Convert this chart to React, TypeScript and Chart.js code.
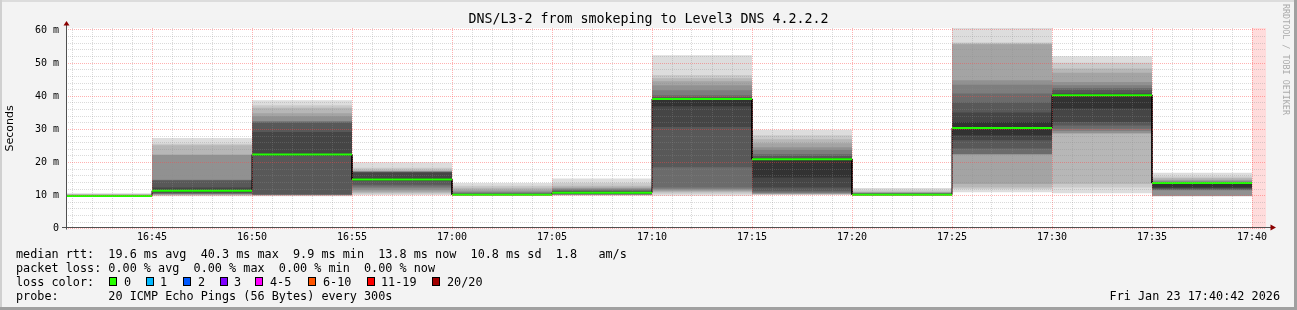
import React, { useEffect, useRef } from "react";
import { Chart, registerables } from "chart.js";

Chart.register(...registerables);

// ---------- data ----------
const TITLE = "DNS/L3-2 from smokeping to Level3 DNS 4.2.2.2";
const AXIS_START = "16:40:42";
const AXIS_END = "17:40:42";
const STEP_SECONDS = 300;

// end time of each 5 minute measurement interval (also the x tick labels)
const SEGMENT_END = ["16:45", "16:50", "16:55", "17:00", "17:05", "17:10", "17:15", "17:20", "17:25", "17:30", "17:35", "17:40"];

// median rtt per interval (ms)
const MEDIAN_MS = [9.9, 11.5, 22.4, 14.9, 10.3, 10.9, 39.2, 21.0, 10.3, 30.4, 40.3, 13.8];

// the 20 sorted ping rtts per interval (ms)
const PINGS_1645 = [9.7, 9.75, 9.8, 9.8, 9.85, 9.85, 9.9, 9.9, 9.9, 9.9, 9.95, 9.95, 10.0, 10.0, 10.1, 10.2, 10.3, 10.4, 10.5, 10.7];
const PINGS_1650 = [9.8, 10.0, 10.2, 10.3, 10.4, 10.5, 10.6, 10.8, 11.0, 11.3, 11.7, 12.5, 14.6, 14.7, 14.8, 22.3, 22.4, 25.2, 25.7, 27.4];
const PINGS_1655 = [9.8, 10.05, 10.1, 10.15, 10.2, 10.25, 10.3, 10.4, 22.0, 22.2, 22.6, 29.2, 32.0, 32.3, 32.5, 34.0, 34.9, 36.5, 37.3, 38.8];
const PINGS_1700 = [10.1, 10.4, 10.8, 11.2, 11.6, 12.2, 12.8, 13.3, 14.4, 14.6, 15.2, 17.0, 17.1, 17.2, 17.25, 17.3, 17.35, 17.8, 18.4, 20.1];
const PINGS_1705 = [10.0, 10.05, 10.1, 10.15, 10.2, 10.22, 10.25, 10.28, 10.3, 10.3, 10.35, 10.45, 10.6, 10.8, 11.0, 11.3, 11.8, 12.4, 13.0, 13.8];
const PINGS_1710 = [10.0, 10.1, 10.2, 10.25, 10.3, 10.35, 10.4, 10.5, 10.6, 10.8, 11.0, 11.2, 11.4, 11.6, 11.9, 12.2, 12.5, 13.0, 13.8, 15.2];
const PINGS_1715 = [10.0, 10.6, 11.0, 11.3, 11.6, 12.0, 12.5, 18.6, 30.7, 37.0, 39.3, 39.5, 39.8, 40.3, 41.8, 43.3, 44.5, 45.4, 46.4, 52.4];
const PINGS_1720 = [10.2, 10.3, 10.4, 10.5, 10.6, 10.8, 11.0, 11.5, 12.5, 15.5, 21.1, 21.3, 22.0, 22.6, 23.8, 24.6, 25.8, 27.0, 28.2, 29.9];
const PINGS_1725 = [10.0, 10.05, 10.1, 10.12, 10.15, 10.18, 10.2, 10.22, 10.25, 10.3, 10.35, 10.5, 10.6, 10.7, 10.8, 10.9, 11.0, 11.2, 11.6, 12.3];
const PINGS_1730 = [11.0, 12.0, 12.5, 13.5, 22.4, 22.5, 22.6, 24.2, 26.7, 28.2, 32.2, 35.1, 38.1, 40.8, 43.5, 44.8, 55.7, 55.9, 56.2, 60.7];
const PINGS_1735 = [10.7, 12.5, 13.5, 28.7, 28.9, 29.5, 30.2, 31.2, 32.2, 36.3, 40.6, 40.8, 42.0, 42.5, 43.3, 44.3, 47.1, 48.4, 50.1, 52.1];
const PINGS_1740 = [9.8, 9.85, 9.9, 9.95, 10.0, 11.6, 11.7, 11.9, 12.2, 12.5, 13.6, 13.7, 13.8, 13.9, 14.2, 14.5, 14.8, 15.3, 15.8, 16.9];
const PINGS = [PINGS_1645, PINGS_1650, PINGS_1655, PINGS_1700, PINGS_1705, PINGS_1710, PINGS_1715, PINGS_1720, PINGS_1725, PINGS_1730, PINGS_1735, PINGS_1740];

// interval without data
const UNKNOWN_FROM = "17:40";
const UNKNOWN_TO = "17:40:42";

// y axis
const Y_MAX_MS = 60.6;
const Y_MAJOR_TICKS = [0, 10, 20, 30, 40, 50, 60];
const Y_TICK_LABELS = ["0", "10 m", "20 m", "30 m", "40 m", "50 m", "60 m"];
const Y_MINOR_STEP = 2;
const X_MINOR_STEP = 60;
const X_MAJOR_STEP = 300;

// legend
const STATS_RTT = "median rtt:  19.6 ms avg  40.3 ms max  9.9 ms min  13.8 ms now  10.8 ms sd  1.8   am/s";
const STATS_LOSS = "packet loss: 0.00 % avg  0.00 % max  0.00 % min  0.00 % now";
const PROBE = "probe:       20 ICMP Echo Pings (56 Bytes) every 300s";
const STAMP = "Fri Jan 23 17:40:42 2026";
const LOSS_LABELS = ["0", "1", "2", "3", "4-5", "6-10", "11-19", "20/20"];
const LOSS_COLORS = ["#26ff00", "#00b8ff", "#0059ff", "#7e00ff", "#ff00ff", "#ff5500", "#ff0000", "#a10000"];

// smoke gray for band i (outer -> inner)
const SMOKE_GRAYS = ["#dddddd", "#cacaca", "#b7b7b7", "#a4a4a4", "#919191", "#7e7e7e", "#6b6b6b", "#585858", "#454545", "#323232"];

// ---------- helpers ----------
const toSec = (t: string) => {
  const p = t.split(":").map(Number);
  return p[0] * 3600 + p[1] * 60 + (p[2] || 0);
};
const fmtTime = (s: number) => {
  const h = Math.floor(s / 3600);
  const m = Math.floor((s % 3600) / 60);
  return `${h}:${String(m).padStart(2, "0")}`;
};
const stepPoints = (vals: number[]) =>
  SEGMENT_END.flatMap((e, i) => {
    const end = toSec(e);
    return [
      { x: end - STEP_SECONDS, y: vals[i] },
      { x: end, y: vals[i] },
    ];
  });
const gapPoints = (vals: number[]) =>
  SEGMENT_END.flatMap((e, i) => {
    const end = toSec(e);
    return [
      { x: end - STEP_SECONDS, y: vals[i] },
      { x: end, y: vals[i] },
      { x: end, y: null as any },
    ];
  });

const MINOR_GRID = "rgba(140,140,140,0.32)";
const MAJOR_GRID = "rgba(255,70,70,0.42)";
const MONO = '"DejaVu Sans Mono", monospace';

const rrdPlugin = {
  id: "rrdFrame",
  beforeDraw(chart: any) {
    const { ctx, chartArea: a } = chart;
    ctx.save();
    ctx.fillStyle = "#ffffff";
    ctx.fillRect(a.left, a.top, a.right - a.left, a.bottom - a.top);
    ctx.restore();
  },
  afterDraw(chart: any) {
    const { ctx, chartArea: a } = chart;
    const x0 = Math.floor(a.left) + 0.5;
    const y0 = Math.floor(a.bottom) - 0.5;
    ctx.save();
    ctx.strokeStyle = "#505050";
    ctx.lineWidth = 1;
    ctx.beginPath();
    ctx.moveTo(x0, Math.ceil(a.bottom) + 0.5);
    ctx.lineTo(x0, a.top - 3);
    ctx.moveTo(a.left - 4, y0);
    ctx.lineTo(a.right + 5, y0);
    ctx.stroke();
    ctx.fillStyle = "#8b0000";
    ctx.beginPath();
    ctx.moveTo(x0, a.top - 7);
    ctx.lineTo(x0 - 3, a.top - 2.5);
    ctx.lineTo(x0 + 3, a.top - 2.5);
    ctx.closePath();
    ctx.fill();
    ctx.beginPath();
    ctx.moveTo(a.right + 10, y0);
    ctx.lineTo(a.right + 4.5, y0 - 3);
    ctx.lineTo(a.right + 4.5, y0 + 3);
    ctx.closePath();
    ctx.fill();
    ctx.restore();
  },
};

export default function App() {
  const ref = useRef<HTMLCanvasElement>(null);

  useEffect(() => {
    document.body.style.margin = "0";
    const datasets: any[] = [];
    const base = { pointRadius: 0, pointHitRadius: 0, tension: 0 };

    datasets.push({
      ...base,
      label: "unknown",
      data: [
        { x: toSec(UNKNOWN_FROM), y: Y_MAX_MS },
        { x: toSec(UNKNOWN_TO), y: Y_MAX_MS },
      ],
      borderWidth: 0,
      borderColor: "transparent",
      backgroundColor: "#ffdcdc",
      fill: "start",
      order: 200,
    });

    for (let k = 0; k < 10; k++) {
      datasets.push({
        ...base,
        label: `low${k}`,
        data: stepPoints(PINGS.map((p) => p[k])),
        borderWidth: 0,
        borderColor: "transparent",
        fill: false,
        order: 99 - k,
      });
      datasets.push({
        ...base,
        label: `high${k}`,
        data: stepPoints(PINGS.map((p) => p[19 - k])),
        borderWidth: 0,
        borderColor: "transparent",
        backgroundColor: SMOKE_GRAYS[k],
        fill: "-1",
        order: 99 - k,
      });
    }

    datasets.push({
      ...base,
      label: "median",
      data: stepPoints(MEDIAN_MS),
      borderColor: "#000000",
      borderWidth: 1,
      fill: false,
      order: 2,
    });
    datasets.push({
      ...base,
      label: "median loss 0",
      data: gapPoints(MEDIAN_MS),
      borderColor: "#20ff00",
      borderWidth: 2,
      fill: false,
      spanGaps: false,
      order: 1,
    });

    const xTicks: any[] = [];
    for (let v = Math.ceil(toSec(AXIS_START) / X_MINOR_STEP) * X_MINOR_STEP; v < toSec(AXIS_END); v += X_MINOR_STEP) xTicks.push({ value: v });
    const yTicks: any[] = [];
    for (let v = 0; v <= Y_MAJOR_TICKS[Y_MAJOR_TICKS.length - 1]; v += Y_MINOR_STEP) yTicks.push({ value: v });

    const chart = new Chart(ref.current as HTMLCanvasElement, {
      type: "line",
      data: { datasets },
      plugins: [rrdPlugin],
      options: {
        animation: false,
        responsive: false,
        devicePixelRatio: 1,
        events: [],
        layout: { padding: { left: 0, right: 31, top: 28, bottom: 0 } },
        plugins: {
          legend: { display: false },
          tooltip: { enabled: false },
          title: { display: false },
        },
        scales: {
          x: {
            type: "linear",
            min: toSec(AXIS_START),
            max: toSec(AXIS_END),
            afterFit: (s: any) => {
              s.height = 81.2;
            },
            afterBuildTicks: (s: any) => {
              s.ticks = xTicks.map((t) => ({ ...t }));
            },
            grid: {
              z: 1,
              drawTicks: false,
              lineWidth: 1,
              color: (c: any) => (c.tick && c.tick.value % X_MAJOR_STEP === 0 ? MAJOR_GRID : MINOR_GRID),
            },
            border: { display: false, dash: [1, 1] },
            ticks: {
              autoSkip: false,
              maxRotation: 0,
              minRotation: 0,
              padding: 3,
              color: "#000",
              font: { family: MONO, size: 10 },
              callback: (v: any) => (Number(v) % X_MAJOR_STEP === 0 && SEGMENT_END.includes(fmtTime(Number(v))) ? fmtTime(Number(v)) : ""),
            },
          },
          y: {
            type: "linear",
            min: 0,
            max: Y_MAX_MS,
            afterFit: (s: any) => {
              s.width = 66;
            },
            afterBuildTicks: (s: any) => {
              s.ticks = yTicks.map((t) => ({ ...t }));
            },
            grid: {
              z: 1,
              drawTicks: false,
              lineWidth: 1,
              color: (c: any) => (c.tick && c.tick.value % 10 === 0 ? MAJOR_GRID : MINOR_GRID),
            },
            border: { display: false, dash: [1, 1] },
            ticks: {
              autoSkip: false,
              padding: 7,
              color: "#000",
              font: { family: MONO, size: 10 },
              callback: (v: any) => {
                const i = Y_MAJOR_TICKS.indexOf(Number(v));
                return i >= 0 ? Y_TICK_LABELS[i] : "";
              },
            },
            title: {
              display: true,
              text: "Seconds",
              color: "#000",
              font: { family: '"DejaVu Sans", sans-serif', size: 11 },
              padding: { top: 3.4, bottom: 0 },
            },
          },
        },
      },
    } as any);
    return () => chart.destroy();
  }, []);

  const line: React.CSSProperties = {
    position: "absolute",
    left: 16,
    fontFamily: MONO,
    fontSize: 11.8,
    lineHeight: "14px",
    whiteSpace: "pre",
    color: "#000",
  };
  const boxX = [109, 146, 183, 220, 255, 308, 367, 432];
  const labelX = [124, 160, 198, 234, 270, 323, 381, 447];

  return (
    <div style={{ position: "relative", width: 1297, height: 310, background: "#f3f3f3", overflow: "hidden" }}>
      <style>{"body{margin:0}"}</style>
      <canvas ref={ref} width={1297} height={310} style={{ position: "absolute", left: 0, top: 0, width: 1297, height: 310 }} />
      <div style={{ position: "absolute", left: 0, top: 0, width: 1297, height: 2, background: "#dcdcdc" }} />
      <div style={{ position: "absolute", left: 0, top: 0, width: 2, height: 310, background: "#d0d0d0" }} />
      <div style={{ position: "absolute", left: 0, top: 307, width: 1297, height: 3, background: "#a0a0a0" }} />
      <div style={{ position: "absolute", left: 1294, top: 0, width: 3, height: 310, background: "#a0a0a0" }} />
      <div
        style={{
          position: "absolute",
          left: 0,
          top: 11,
          width: 1297,
          textAlign: "center",
          fontFamily: MONO,
          fontSize: 13.3,
          lineHeight: "16px",
          color: "#000",
          whiteSpace: "pre",
        }}
      >
        {TITLE}
      </div>
      <div
        style={{
          position: "absolute",
          left: 1281,
          top: 4,
          writingMode: "vertical-rl",
          fontFamily: MONO,
          fontSize: 8.4,
          lineHeight: "10px",
          color: "#ababab",
          whiteSpace: "pre",
        }}
      >
        RRDTOOL / TOBI OETIKER
      </div>
      <div style={{ ...line, top: 247 }}>{STATS_RTT}</div>
      <div style={{ ...line, top: 261 }}>{STATS_LOSS}</div>
      <div style={{ ...line, top: 275 }}>{"loss color:"}</div>
      {LOSS_LABELS.map((l, i) => (
        <React.Fragment key={l}>
          <div
            style={{
              position: "absolute",
              left: boxX[i],
              top: 277,
              width: 8,
              height: 9,
              boxSizing: "border-box",
              border: "1px solid #000",
              background: LOSS_COLORS[i],
            }}
          />
          <div style={{ ...line, left: labelX[i], top: 275 }}>{l}</div>
        </React.Fragment>
      ))}
      <div style={{ ...line, top: 289 }}>{PROBE}</div>
      <div style={{ ...line, left: "auto", right: 17, top: 289 }}>{STAMP}</div>
    </div>
  );
}
